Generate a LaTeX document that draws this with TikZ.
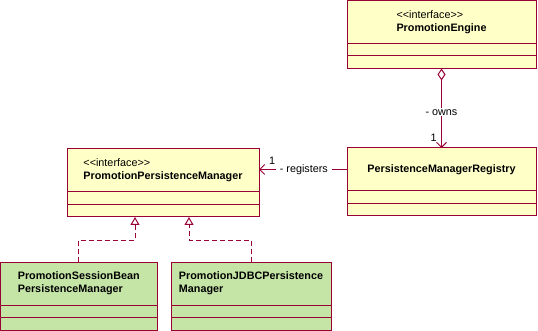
\documentclass[tikz,border=0pt]{standalone}
\usepackage{fontspec}
\setmainfont{Liberation Sans}
\usetikzlibrary{positioning, arrows.meta}
\definecolor{umlred}{RGB}{153,0,51}
\definecolor{umlyellow}{RGB}{255,255,200}
\definecolor{umlgreen}{RGB}{197,229,167}

\begin{document}
\begin{tikzpicture}[
        x=1pt, y=-1pt,
        classname/.style={draw=umlred, fill=umlyellow, rectangle, minimum height=43pt, align=left, inner sep=0pt, outer sep=0pt, line width=1pt},
        compartment/.style={draw=umlred, fill=umlyellow, rectangle, minimum height=12.5pt, inner sep=0pt, outer sep=0pt, line width=1pt},
        impl/.style={fill=umlgreen},
        assoc/.style={draw=umlred, line width=1pt, -{Straight Barb[length=5pt, width=10pt]}},
        aggreg/.style={draw=umlred, line width=1pt, {Diamond[open, length=12pt, width=8pt]}-{Straight Barb[length=5pt, width=10pt]}},
        realize/.style={draw=umlred, line width=1pt, dash pattern=on 5pt off 3pt, -{Triangle[open, length=8pt, width=9pt]}},
        rolename/.style={fill=white, inner xsep=4pt, inner ysep=1pt},
        font=\fontsize{10.8}{12.8}\selectfont
    ]
    \useasboundingbox (0,0) rectangle (538,331);

    % Classes
    \node[classname, minimum width=189pt] (engine) at (441.5, 22) {<\kern0pt<interface>\kern0pt>\\\textbf{PromotionEngine}};
    \node[compartment, minimum width=189pt, below=0pt of engine] (engine-attr) {};
    \node[compartment, minimum width=189pt, below=0pt of engine-attr] (engine-ops) {};

    \node[classname, minimum width=189pt] (registry) at (441.5, 169.5) {\textbf{PersistenceManagerRegistry}};
    \node[compartment, minimum width=189pt, below=0pt of registry] (registry-attr) {};
    \node[compartment, minimum width=189pt, below=0pt of registry-attr] (registry-ops) {};

    \node[classname, minimum width=192pt] (manager) at (163, 170.5) {<\kern0pt<interface>\kern0pt>\\\textbf{PromotionPersistenceManager}};
    \node[compartment, minimum width=192pt, below=0pt of manager] (manager-attr) {};
    \node[compartment, minimum width=192pt, below=0pt of manager-attr] (manager-ops) {};

    \node[classname, impl, minimum width=156.5pt] (session) at (78.75, 283.5) {\textbf{PromotionSessionBean}\\\textbf{PersistenceManager}};
    \node[compartment, impl, minimum width=156.5pt, below=0pt of session] (session-attr) {};
    \node[compartment, impl, minimum width=156.5pt, below=0pt of session-attr] (session-ops) {};

    \node[classname, impl, minimum width=160pt] (jdbc) at (251, 283.5) {\textbf{PromotionJDBCPersistence}\\\textbf{Manager}};
    \node[compartment, impl, minimum width=160pt, below=0pt of jdbc] (jdbc-attr) {};
    \node[compartment, impl, minimum width=160pt, below=0pt of jdbc-attr] (jdbc-ops) {};

    % Associations
    \draw[aggreg] (engine-ops.south) -- node[rolename, pos=0.55] {- owns} node[pos=0.87, left=1pt] {1} (registry.north);
    \draw[assoc] (registry.west) -- node[rolename, pos=0.49] {- registers} node[pos=0.85, above=1pt] {1} (registry.west -| manager.east);

    % Realizations
    \coordinate (bend1) at (135, 240);
    \coordinate (bend2) at (189, 240);
    \draw[realize] (session.north) |- (bend1) -- (bend1 |- manager-ops.south);
    \draw[realize] (jdbc.north) |- (bend2) -- (bend2 |- manager-ops.south);
\end{tikzpicture}
\end{document}
